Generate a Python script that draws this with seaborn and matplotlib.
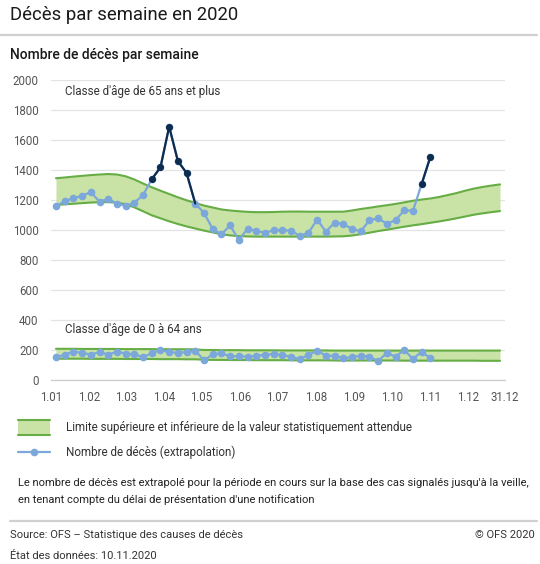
import numpy as np
import pandas as pd
import seaborn as sns
import matplotlib.pyplot as plt
import matplotlib.dates as mdates
from matplotlib.patches import Rectangle
from matplotlib.lines import Line2D

# weekly deaths, age 65+ (weeks 1-44 of 2020)
deaths_65 = [1158, 1191, 1213, 1227, 1253, 1189, 1207, 1176, 1162, 1182,
             1233, 1338, 1418, 1689, 1460, 1380, 1176, 1114, 1007, 971,
             1031, 933, 1009, 994, 982, 998, 998, 996, 960, 982,
             1069, 989, 1049, 1040, 1007, 991, 1064, 1078, 1041, 1065,
             1132, 1127, 1307, 1488]
# weeks above the expected range (drawn dark)
excess_65 = [0, 0, 0, 0, 0, 0, 0, 0, 0, 0,
             0, 1, 1, 1, 1, 1, 0, 0, 0, 0,
             0, 0, 0, 0, 0, 0, 0, 0, 0, 0,
             0, 0, 0, 0, 0, 0, 0, 0, 0, 0,
             0, 0, 1, 1]

# weekly deaths, age 0-64
deaths_0_64 = [151, 169, 189, 182, 169, 187, 169, 189, 176, 171,
               153, 178, 200, 187, 180, 187, 196, 131, 171, 178,
               158, 158, 156, 160, 169, 172, 167, 153, 140, 167,
               196, 162, 162, 144, 153, 162, 156, 127, 180, 156,
               200, 140, 189, 144]

# expected range, 52 weeks
upper_65 = [1345, 1350, 1356, 1361, 1366, 1370, 1373, 1370, 1358, 1337,
            1310, 1285, 1262, 1240, 1218, 1198, 1180, 1163, 1150, 1137,
            1130, 1125, 1121, 1119, 1119, 1120, 1122, 1123, 1123, 1122,
            1122, 1122, 1122, 1122, 1130, 1140, 1148, 1157, 1165, 1174,
            1184, 1195, 1203, 1210, 1220, 1233, 1246, 1262, 1276, 1287,
            1296, 1304]
lower_65 = [1167, 1171, 1175, 1179, 1183, 1185, 1186, 1182, 1172, 1151,
            1125, 1098, 1078, 1058, 1040, 1024, 1010, 996, 984, 972,
            964, 959, 957, 956, 956, 956, 956, 956, 956, 956,
            956, 956, 957, 958, 963, 972, 982, 993, 1002, 1012,
            1022, 1031, 1039, 1048, 1057, 1067, 1078, 1090, 1102, 1111,
            1119, 1126]
upper_0_64 = [208, 208, 208, 207, 207, 207, 207, 207, 206, 206,
              206, 206, 205, 205, 205, 205, 204, 200, 200, 199,
              199, 199, 198, 198, 198, 198, 197, 197, 197, 197,
              197, 197, 196, 196, 196, 196, 196, 196, 196, 196,
              196, 196, 196, 196, 196, 196, 196, 196, 196, 196,
              196, 196]
lower_0_64 = [142, 142, 142, 142, 141, 141, 141, 141, 140, 140,
              140, 140, 139, 139, 139, 138, 138, 135, 134, 134,
              133, 133, 133, 132, 132, 132, 132, 131, 131, 131,
              131, 131, 130, 130, 130, 130, 130, 130, 130, 130,
              129, 129, 129, 129, 129, 129, 129, 129, 129, 128,
              128, 128]

weeks = pd.date_range("2020-01-05", periods=52, freq="7D")
month_ticks = pd.date_range("2020-01-01", periods=12, freq="MS").append(pd.DatetimeIndex(["2020-12-31"]))
month_labels = ["1.01", "1.02", "1.03", "1.04", "1.05", "1.06", "1.07",
                "1.08", "1.09", "1.10", "1.11", "1.12", "31.12"]

GREEN_FILL = "#c9e2a6"
GREEN_LINE = "#66ad45"
LIGHT_BLUE = "#7ba7da"
DARK_BLUE = "#0d2c4e"
GREY_TXT = "#555555"

sns.set_theme(style="white")
plt.rcParams["font.family"] = ["Roboto", "DejaVu Sans"]

fig = plt.figure(figsize=(5.4, 5.64), dpi=100)
ax = fig.add_axes([51 / 540, 1 - 380 / 564, 454 / 540, 300 / 564])

# expected-range bands
for up, lo in [(upper_65, lower_65), (upper_0_64, lower_0_64)]:
    ax.fill_between(weeks, lo, up, color=GREEN_FILL, lw=0, zorder=2)
    sns.lineplot(x=weeks, y=up, color=GREEN_LINE, lw=1.5, ax=ax, zorder=3)
    sns.lineplot(x=weeks, y=lo, color=GREEN_LINE, lw=1.5, ax=ax, zorder=3)

n = len(deaths_65)
obs = pd.DataFrame({"week": weeks[:n], "d65": deaths_65, "d064": deaths_0_64,
                    "excess": excess_65})

for col in ["d65", "d064"]:
    sns.lineplot(data=obs, x="week", y=col, color=LIGHT_BLUE, lw=1.6,
                 marker="o", markersize=5.5, markeredgewidth=0, ax=ax, zorder=4)

# dark segments: excess weeks, joined on to the following week
i = 0
while i < n:
    if obs["excess"][i]:
        j = i
        while j < n and obs["excess"][j]:
            j += 1
        seg = obs.iloc[i:min(j + 1, n)]
        sns.lineplot(data=seg, x="week", y="d65", color=DARK_BLUE, lw=1.6,
                     ax=ax, zorder=5)
        i = j
    else:
        i += 1
exc = obs[obs["excess"] == 1]
sns.scatterplot(data=exc, x="week", y="d65", color=DARK_BLUE, s=26,
                linewidth=0, ax=ax, zorder=6)

ax.set_xlim(pd.Timestamp("2020-01-01"), pd.Timestamp("2020-12-31"))
ax.set_ylim(0, 2000)
ax.set_yticks(range(0, 2001, 200))
ax.set_xticks(month_ticks)
ax.set_xticklabels(month_labels)
ax.set_xlabel("")
ax.set_ylabel("")
ax.grid(axis="y", color="#e3e3e3", lw=0.9, zorder=0)
ax.set_axisbelow(True)
for s in ["top", "right", "left"]:
    ax.spines[s].set_visible(False)
ax.spines["bottom"].set_color("#cccccc")
ax.spines["bottom"].set_linewidth(0.9)
ax.tick_params(axis="x", colors="#cccccc", length=5, width=0.9, direction="out",
               labelcolor=GREY_TXT, labelsize=8.3, pad=3)
ax.tick_params(axis="y", length=0, labelcolor=GREY_TXT, labelsize=8.3, pad=9)
if ax.get_legend():
    ax.get_legend().remove()

ax.text(0.031, 0.96, "Classe d'âge de 65 ans et plus", transform=ax.transAxes,
        fontsize=8.4, color="#333333", va="center")
ax.text(0.031, 0.167, "Classe d'âge de 0 à 64 ans", transform=ax.transAxes,
        fontsize=8.4, color="#333333", va="center")

# header
fig.text(10 / 540, 1 - 15 / 564, "Décès par semaine en 2020", fontsize=13.3,
         color="#1a1a1a", va="center")
fig.add_artist(Line2D([0, 537 / 540], [1 - 35 / 564] * 2, color="#d0d0d0", lw=1.6))
fig.text(10 / 540, 1 - 55 / 564, "Nombre de décès par semaine", fontsize=10,
         color="#1a1a1a", va="center", fontweight="medium")

# legend
fig.add_artist(Rectangle((18 / 540, 1 - 436 / 564), 32 / 540, 16 / 564,
                         facecolor=GREEN_FILL, edgecolor="none"))
for yy in [420, 435]:
    fig.add_artist(Line2D([18 / 540, 50 / 540], [1 - yy / 564] * 2, color=GREEN_LINE, lw=1.5))
fig.text(66 / 540, 1 - 428 / 564, "Limite supérieure et inférieure de la valeur statistiquement attendue",
         fontsize=8.4, color="#333333", va="center")
fig.add_artist(Line2D([18 / 540, 50 / 540], [1 - 452 / 564] * 2, color=LIGHT_BLUE, lw=1.6))
fig.add_artist(Line2D([34 / 540], [1 - 452 / 564], color=LIGHT_BLUE, marker="o",
                      markersize=5.5, markeredgewidth=0))
fig.text(66 / 540, 1 - 452 / 564, "Nombre de décès (extrapolation)",
         fontsize=8.4, color="#333333", va="center")
fig.text(18 / 540, 1 - 483 / 564,
         "Le nombre de décès est extrapolé pour la période en cours sur la base des cas signalés jusqu'à la veille,",
         fontsize=8, color="#222222", va="center")
fig.text(18 / 540, 1 - 500 / 564,
         "en tenant compte du délai de présentation d'une notification",
         fontsize=8, color="#222222", va="center")

# footer
fig.add_artist(Line2D([10 / 540, 537 / 540], [1 - 521 / 564] * 2, color="#d0d0d0", lw=1.6))
fig.text(10 / 540, 1 - 535 / 564, "Source: OFS – Statistique des causes de décès",
         fontsize=8, color="#333333", va="center")
fig.text(535 / 540, 1 - 535 / 564, "© OFS 2020", fontsize=8, color="#333333",
         va="center", ha="right")
fig.text(10 / 540, 1 - 556 / 564, "État des données: 10.11.2020",
         fontsize=8, color="#333333", va="center")

fig.savefig("out.png", dpi=100)
